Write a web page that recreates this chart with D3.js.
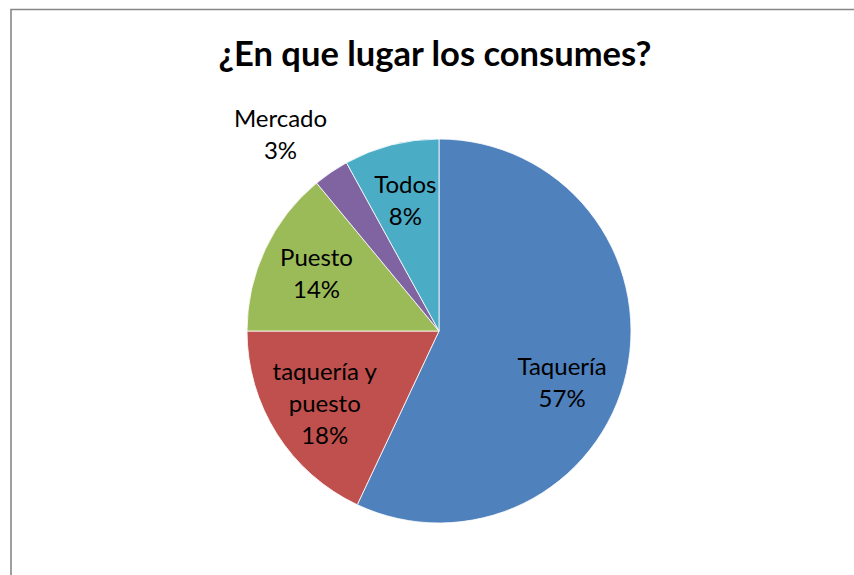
<!DOCTYPE html>
<html>
<head>
<meta charset="utf-8">
<script src="https://cdn.jsdelivr.net/npm/d3@7"></script>
<style>
  html, body { margin: 0; padding: 0; background: #fff; }
  svg { display: block; }
</style>
</head>
<body>
<svg id="chart" width="854" height="575"></svg>
<script>
// Survey answers: where people eat them
const categories = ["Taquería", "taquería y puesto", "Puesto", "Mercado", "Todos"];
const values = [57, 18, 14, 3, 8];
const labelLines = [["Taquería"], ["taquería y", "puesto"], ["Puesto"], ["Mercado"], ["Todos"]];
const colors = ["#4F81BD", "#C0504D", "#9BBB59", "#8064A2", "#4BACC6"];
const title = "¿En que lugar los consumes?";

const W = 854, H = 575;
const cx = 439, cy = 331, radius = 192;
const lineH = 32;
const font = "Lato, 'Open Sans', sans-serif";

// Labels drawn outside the pie, and small best-fit shifts for some labels
const outside = new Set(["Mercado"]);
const labelShift = { "Taquería": [-9, 22], "Mercado": [-29, -6] };

const svg = d3.select("#chart");

// chart area frame
svg.append("path")
  .attr("d", `M11,${H + 2} L11,9.5 L${W + 2},9.5`)
  .attr("fill", "none")
  .attr("stroke", "#878787")
  .attr("stroke-width", 1.6);

svg.append("text")
  .attr("x", 435)
  .attr("y", 66)
  .attr("text-anchor", "middle")
  .attr("font-family", font)
  .attr("font-weight", 700)
  .attr("font-size", 34.5)
  .attr("fill", "#000")
  .text(title);

const data = categories.map((c, i) => ({ category: c, value: values[i], lines: labelLines[i], color: colors[i] }));

const pie = d3.pie().sort(null).value(d => d.value).startAngle(0).endAngle(2 * Math.PI);
const arcs = pie(data);
const total = d3.sum(values);

const arc = d3.arc().innerRadius(0).outerRadius(radius);
const labelArc = d3.arc().innerRadius(radius * 0.705).outerRadius(radius * 0.705);
const outerLabelArc = d3.arc().innerRadius(radius * 1.2).outerRadius(radius * 1.2);

const g = svg.append("g").attr("transform", `translate(${cx},${cy})`);

g.selectAll("path.slice")
  .data(arcs)
  .join("path")
  .attr("class", "slice")
  .attr("d", arc)
  .attr("fill", d => d.data.color)
  .attr("stroke", "#ffffff")
  .attr("stroke-width", 0.8);

const pct = d3.format(".0%");

g.selectAll("text.lbl")
  .data(arcs)
  .join("text")
  .attr("class", "lbl")
  .attr("text-anchor", "middle")
  .attr("font-family", font)
  .attr("font-size", 24)
  .attr("fill", "#000")
  .each(function (d) {
    const c = outside.has(d.data.category) ? outerLabelArc.centroid(d) : labelArc.centroid(d);
    const s = labelShift[d.data.category] || [0, 0];
    const x = c[0] + s[0], y = c[1] + s[1];
    const lines = d.data.lines.concat([pct(d.data.value / total)]);
    const t = d3.select(this);
    lines.forEach((ln, i) => {
      t.append("tspan")
        .attr("x", x)
        .attr("y", y + (i - (lines.length - 1) / 2) * lineH)
        .attr("dy", "0.36em")
        .text(ln);
    });
  });
</script>
</body>
</html>
